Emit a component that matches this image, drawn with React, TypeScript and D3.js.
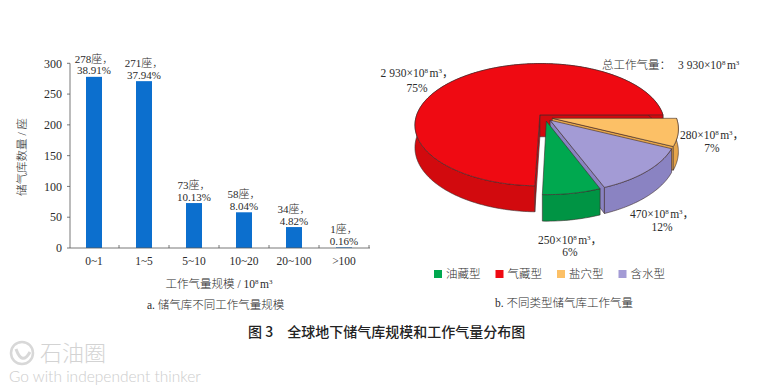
import React from 'react';
import * as d3 from 'd3';

// left chart: storage count by working gas size
const sizeBins = ['0~1', '1~5', '5~10', '10~20', '20~100', '>100'];
const storageCounts = [278, 271, 73, 58, 34, 1];
const storageShares = ['38.91%', '37.94%', '10.13%', '8.04%', '4.82%', '0.16%'];
const countTicks = [0, 50, 100, 150, 200, 250, 300];

// right chart: working gas by storage type (10^8 m3)
const gasTypes = ['油藏型', '气藏型', '盐穴型', '含水型'];
const gasVolumes = [250, 2930, 280, 470];
const gasShares = ['6%', '75%', '7%', '12%'];
const pieOrder = ['盐穴型', '含水型', '油藏型', '气藏型'];
const totalVolume = 3930;

const W = 775;
const H = 388;
const SERIF = "'Liberation Serif', 'Noto Sans CJK SC', serif";
const SANS = "'Noto Sans CJK SC', sans-serif";
const TXT = '#2b2b2b';

const topColor: Record<string, string> = {
  油藏型: '#00a84f',
  气藏型: '#ef0a12',
  盐穴型: '#fcc066',
  含水型: '#a39bd5',
};
const wallColor: Record<string, string> = {
  油藏型: '#009444',
  气藏型: '#d20a0e',
  盐穴型: '#e6a64c',
  含水型: '#8a83c2',
};

// label placement for pie annotations
const pieLabelPos: Record<string, [number, number, number]> = {
  气藏型: [417, 77, 92],
  盐穴型: [712, 139, 152],
  含水型: [662, 218, 231],
  油藏型: [570, 244, 256],
};

const fmtNum = (v: number) => d3.format(',')(v).replace(',', ' ');

const Sci = ({ v, tail = '，', lead = 0 }: { v: number; tail?: string; lead?: number }) => (
  <>
    <tspan dx={lead}>{fmtNum(v)}×10</tspan>
    <tspan dy={-4.5} fontSize={7}>8</tspan>
    <tspan dy={4.5} dx={1.5}>m</tspan>
    <tspan dy={-4.5} fontSize={7}>3</tspan>
    <tspan dy={4.5}>{tail}</tspan>
  </>
);

const BarChart = () => {
  const x = d3.scaleBand<string>().domain(sizeBins).range([69, 369]).paddingInner(0.68).paddingOuter(0.34);
  const y = d3.scaleLinear().domain([0, 300]).range([248, 63.3]);
  const y0 = y(0);
  const step = x.step();
  return (
    <g>
      {storageCounts.map((c, i) => (
        <rect key={i} x={x(sizeBins[i])} y={y(c)} width={x.bandwidth()} height={y0 - y(c)} fill="#0c6fce" />
      ))}
      <line x1={70} x2={370} y1={y0} y2={y0} stroke="#555" strokeWidth={0.8} />
      <line x1={70} x2={70} y1={y(300)} y2={y0} stroke="#555" strokeWidth={0.8} />
      {sizeBins.map((b, i) => (
        <line key={b} x1={69 + step * (i + 1)} x2={69 + step * (i + 1)} y1={y0} y2={y0 - 3} stroke="#555" strokeWidth={0.8} />
      ))}
      {countTicks.map(t => (
        <g key={t}>
          <line x1={67} x2={70} y1={y(t)} y2={y(t)} stroke="#555" strokeWidth={0.8} />
          <text x={62} y={y(t)} dy="0.35em" textAnchor="end" fontSize={12} fontFamily={SERIF} fill={TXT}>{t}</text>
        </g>
      ))}
      {sizeBins.map(b => (
        <text key={b} x={x(b)! + x.bandwidth() / 2} y={265} textAnchor="middle" fontSize={11.5} fontFamily={SERIF} fill={TXT}>{b}</text>
      ))}
      {storageCounts.map((c, i) => {
        const cx = x(sizeBins[i])! + x.bandwidth() / 2;
        return (
          <text key={i} textAnchor="middle" fontSize={11} fontFamily={SERIF} fill={TXT} fontWeight={300}>
            <tspan x={cx} y={y(c) - 14}>{c}座，</tspan>
            <tspan x={cx} y={y(c) - 2.5}>{storageShares[i]}</tspan>
          </text>
        );
      })}
      <text x={219} y={288} textAnchor="middle" fontSize={11.5} fontFamily={SERIF} fill={TXT} fontWeight={300}>
        <tspan>工作气量规模 / 10</tspan>
        <tspan dy={-4.5} fontSize={7}>8</tspan>
        <tspan dy={4.5} dx={1.5}>m</tspan>
        <tspan dy={-4.5} fontSize={7}>3</tspan>
      </text>
      <text transform="translate(26,157) rotate(-90)" textAnchor="middle" fontSize={11.5} fontFamily={SERIF} fill={TXT} fontWeight={300}>
        储气库数量 / 座
      </text>
      <text x={147} y={309} fontSize={11.5} fontFamily={SERIF} fill={TXT} fontWeight={300}>a. 储气库不同工作气量规模</text>
    </g>
  );
};

// simple perspective projection of a tilted disc
const P = { cx: 545, cy: 117.5, rx: 124, ry: 60.4, k: 0.161, h: 22 };
const proj = (u: number, v: number, down = 0): [number, number] => {
  const s = 1 / (1 - P.k * v);
  return [P.cx + P.rx * u * s, P.cy + P.ry * v * s + down * P.h * s];
};

const Pie3D = () => {
  const values = pieOrder.map(t => gasVolumes[gasTypes.indexOf(t)]);
  const arcs = d3.pie<number>().sort(null).startAngle(Math.PI / 2).endAngle(Math.PI / 2 + 2 * Math.PI)(values);
  const line = d3.line();
  const explode = 0.06;

  const slices = arcs.map((a, i) => {
    const type = pieOrder[i];
    const mid = (a.startAngle + a.endAngle) / 2;
    const ou = explode * Math.sin(mid);
    const ov = -explode * Math.cos(mid);
    const n = Math.max(4, Math.ceil((a.endAngle - a.startAngle) / (Math.PI / 180)));
    const angles = d3.range(n + 1).map(j => a.startAngle + ((a.endAngle - a.startAngle) * j) / n);
    const rim = (ang: number, down = 0) => proj(ou + Math.sin(ang), ov - Math.cos(ang), down);
    const topPts = angles.map(ang => rim(ang));
    const botPts = angles.map(ang => rim(ang, 1)).reverse();
    const apex = proj(ou, ov);
    const apexB = proj(ou, ov, 1);
    const top = line([apex, ...topPts]) + 'Z';
    const outer = line([...topPts, ...botPts]) + 'Z';
    // radial faces, keep only the ones turned to the viewer
    const camV = 1 / P.k;
    const faces: string[] = [];
    [
      [a.startAngle, 1],
      [a.endAngle, -1],
    ].forEach(([ang, s]) => {
      const nu = -s * Math.cos(ang);
      const nv = -s * Math.sin(ang);
      if (nu * (0 - ou) + nv * (camV - ov) > 0) {
        faces.push(line([apex, rim(ang), rim(ang, 1), apexB]) + 'Z');
      }
    });
    return { type, top, outer, faces, depth: ov - Math.cos(mid) };
  });

  const byDepth = [...slices].sort((p, q) => p.depth - q.depth);
  const stroke = { stroke: '#3a2a2a', strokeWidth: 0.6, strokeLinejoin: 'round' as const };

  return (
    <g>
      {byDepth.map(s => (
        <g key={s.type + 'w'}>
          {s.faces.map((f, j) => <path key={j} d={f} fill={wallColor[s.type]} {...stroke} />)}
          <path d={s.outer} fill={wallColor[s.type]} {...stroke} />
        </g>
      ))}
      {byDepth.map(s => (
        <path key={s.type + 't'} d={s.top} fill={topColor[s.type]} {...stroke} />
      ))}
      {gasTypes.map((t, i) => {
        const [lx, y1, y2] = pieLabelPos[t];
        return (
          <text key={t} textAnchor="middle" fontSize={11.5} fontFamily={SERIF} fill={TXT}>
            <tspan x={lx} y={y1}>
              <Sci v={gasVolumes[i]} />
            </tspan>
            <tspan x={lx} y={y2}>{gasShares[i]}</tspan>
          </text>
        );
      })}
      <text x={602} y={69} fontSize={11.5} fontFamily={SERIF} fill={TXT} fontWeight={300}>
        <tspan>总工作气量：</tspan>
        <Sci v={totalVolume} tail="" lead={7} />
      </text>
      {gasTypes.map((t, i) => {
        const lx = 438 + i * 61.5;
        return (
          <g key={t}>
            <rect x={lx - 4} y={270} width={8} height={8} fill={topColor[t]} />
            <text x={lx + 8} y={278} fontSize={11.5} fontFamily={SERIF} fill={TXT} fontWeight={300}>{t}</text>
          </g>
        );
      })}
      <text x={495} y={307} fontSize={11.5} fontFamily={SERIF} fill={TXT} fontWeight={300}>b. 不同类型储气库工作气量</text>
    </g>
  );
};

export default function App() {
  return (
    <svg
      width={W}
      height={H}
      viewBox={`0 0 ${W} ${H}`}
      style={{ position: 'absolute', left: 0, top: 0, background: '#fff' }}
    >
      <rect width={W} height={H} fill="#fff" />
      <BarChart />
      <Pie3D />
      <text x={248} y={337} fontSize={14} fontFamily={SANS} fontWeight={500} fill="#222">
        <tspan>图 3</tspan>
        <tspan dx={14}>全球地下储气库规模和工作气量分布图</tspan>
      </text>
      <g opacity={0.9}>
        <circle cx={22} cy={353} r={11} fill="none" stroke="#d4d4d4" strokeWidth={2.5} />
        <path d="M16,349 Q22,366 30,352" fill="none" stroke="#d4d4d4" strokeWidth={3} />
        <text x={40} y={361} fontSize={22} fontFamily={SANS} fontWeight={300} fill="#cfcfcf">石油圈</text>
        <text x={9} y={382} fontSize={15.5} fontFamily="Lato, sans-serif" fontWeight={300} fill="#c8c8c8">
          Go with independent thinker
        </text>
      </g>
    </svg>
  );
}
